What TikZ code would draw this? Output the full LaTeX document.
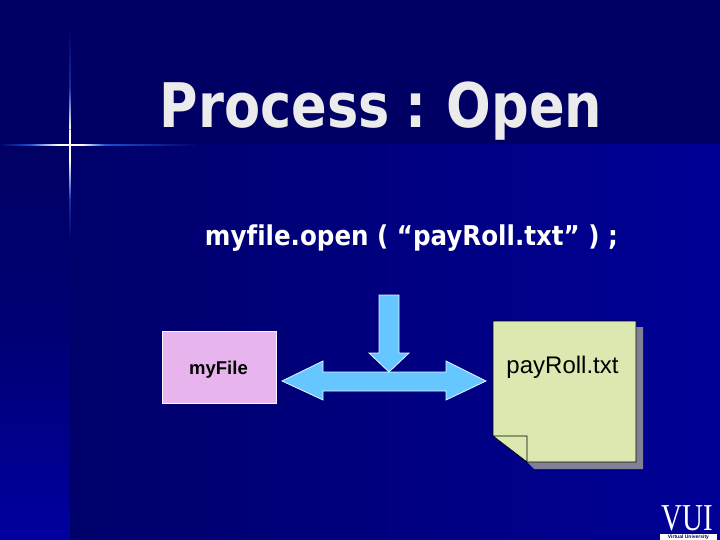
\documentclass[tikz,border=0pt]{standalone}
\usepackage{fontspec}
\setmainfont{Liberation Sans}
\newfontfamily\headfont[Ligatures=NoCommon]{DejaVu Sans Condensed}
\newfontfamily\logofont{Liberation Serif}
\definecolor{navy}{RGB}{0,0,100}
\definecolor{stripblue}{RGB}{0,0,160}
\definecolor{bluehi}{RGB}{0,0,150}
\definecolor{bluelo}{RGB}{0,0,106}
\definecolor{flare}{RGB}{30,80,215}
\definecolor{arrowblue}{RGB}{102,198,255}
\definecolor{pinkbox}{RGB}{232,180,238}
\definecolor{notegreen}{RGB}{219,232,176}
\definecolor{noteshadow}{RGB}{128,128,150}
\tikzset{
  titletext/.style={font=\headfont\bfseries\fontsize{61.5}{63}\selectfont, text=white!92!black, inner sep=0pt, xscale=0.95},
  codetext/.style={font=\headfont\bfseries\fontsize{27.3}{30}\selectfont, text=white, inner sep=0pt},
  blockarrow/.style={fill=arrowblue, draw=white!85!arrowblue, line width=0.8pt, line join=miter}
}
\begin{document}
\begin{tikzpicture}[x=1pt,y=-1pt]
\useasboundingbox (0,0) rectangle (720,540);

% background
\fill[navy] (0,0) rectangle (720,145);
\shade[top color=navy, bottom color=stripblue, middle color=navy!70!stripblue] (0,145) rectangle (70,540);
\shade[left color=bluelo, right color=bluehi] (70,145) rectangle (720,540);

% flare
\shade[left color=navy, right color=flare] (0,144.5) rectangle (30,145.5);
\shade[left color=flare, right color=white] (30,144.3) rectangle (58,145.7);
\fill[white] (58,144.3) rectangle (82,145.7);
\shade[left color=white, right color=flare] (82,144.3) rectangle (105,145.7);
\shade[left color=flare, right color=navy] (105,144.5) rectangle (200,145.5);
\shade[top color=navy, bottom color=flare!60!navy] (69.5,30) rectangle (70.5,88);
\shade[top color=flare!60!navy, bottom color=white] (69.3,88) rectangle (70.7,130);
\fill[white] (69.3,130) rectangle (70.7,160);
\shade[top color=white, bottom color=flare!60!navy] (69.3,160) rectangle (70.7,200);
\shade[top color=flare!60!navy, bottom color=navy] (69.5,200) rectangle (70.5,240);

\node[titletext, anchor=base] (title) at (381,128) {Process\hspace{-3pt} :\hspace{-4pt} Open};
\node[codetext, anchor=base] (call) at (411.5,245.5) {myfile.open ( “payRoll.txt” ) ;};

% myFile box
\node[draw=white!85!pinkbox, fill=pinkbox, line width=0.8pt, minimum width=114.5pt, minimum height=72pt, inner sep=0pt] (myfile) at (219.5,367.7) {};
\node[inner sep=0pt, anchor=base, font=\bfseries\fontsize{18.5}{20}\selectfont] (myfilelabel) at (218.5,374) {myFile};

% arrows
\draw[blockarrow] (282,381) -- (323,361) -- (323,372) -- (446,372) -- (446,361) -- (486,381)
  -- (446,400) -- (446,391) -- (323,391) -- (323,400) -- cycle;
\draw[blockarrow] (379,295) -- (399,295) -- (399,353) -- (409,353) -- (389,372) -- (369,353) -- (379,353) -- cycle;

% note
\fill[noteshadow] (636,327) -- (643,327) -- (643,469) -- (534,469) -- (527,462) -- (636,462) -- cycle;
\draw[black, fill=notegreen, line width=0.7pt] (493,321) -- (636,321) -- (636,462) -- (527,462) -- (493,436) -- cycle;
\draw[black, fill=notegreen, line width=0.7pt] (493,436) -- (527,436) -- (527,462) -- cycle;
\node[inner sep=0pt, anchor=base, font=\fontsize{24}{26}\selectfont] (payroll) at (562.5,373.5) {payRoll.txt};

% logo
\node[inner sep=0pt, anchor=base, text=white, font=\logofont\fontsize{38}{38}\selectfont, xscale=0.76] (logo) at (687,530) {VUI};
\fill[white] (660,534) rectangle (717,540);
\node[inner sep=0pt, text=navy, font=\bfseries\fontsize{5}{5}\selectfont] (logotext) at (688.5,537.3) {Virtual University};

\end{tikzpicture}
\end{document}
